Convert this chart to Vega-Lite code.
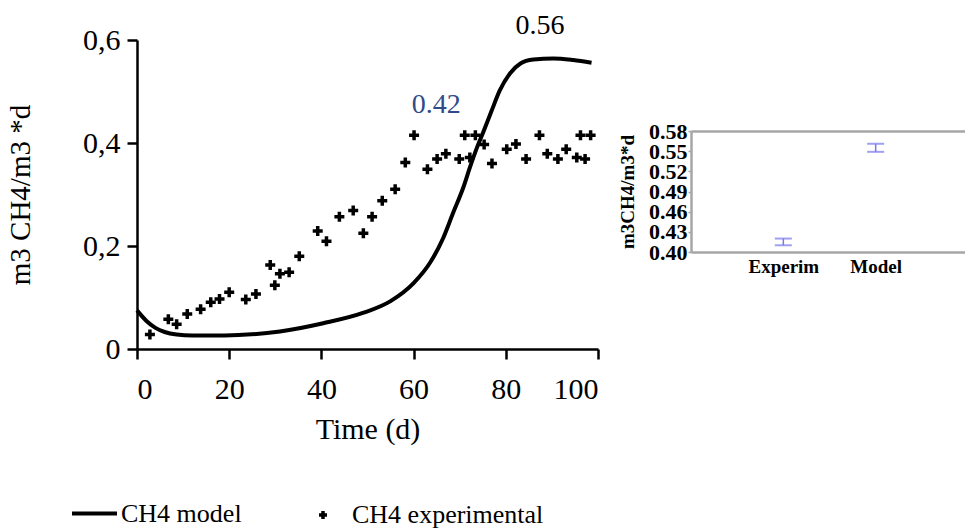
{
  "$schema": "https://vega.github.io/schema/vega-lite/v6.json",
  "width": 965,
  "height": 529,
  "autosize": {"type": "none"},
  "padding": 0,
  "background": "white",
  "config": {"view": {"stroke": null}, "font": "Liberation Serif"},
  "datasets": {
    "model": [
      {"day": 0, "value": 0.075, "series": "CH4 model"},
      {"day": 2, "value": 0.055, "series": "CH4 model"},
      {"day": 4, "value": 0.041, "series": "CH4 model"},
      {"day": 6, "value": 0.033, "series": "CH4 model"},
      {"day": 8.6, "value": 0.028, "series": "CH4 model"},
      {"day": 12, "value": 0.026, "series": "CH4 model"},
      {"day": 16, "value": 0.026, "series": "CH4 model"},
      {"day": 22, "value": 0.027, "series": "CH4 model"},
      {"day": 31, "value": 0.034, "series": "CH4 model"},
      {"day": 40.4, "value": 0.05, "series": "CH4 model"},
      {"day": 49, "value": 0.07, "series": "CH4 model"},
      {"day": 55, "value": 0.093, "series": "CH4 model"},
      {"day": 60, "value": 0.128, "series": "CH4 model"},
      {"day": 63.6, "value": 0.168, "series": "CH4 model"},
      {"day": 66.4, "value": 0.215, "series": "CH4 model"},
      {"day": 68.6, "value": 0.265, "series": "CH4 model"},
      {"day": 70.8, "value": 0.314, "series": "CH4 model"},
      {"day": 72.2, "value": 0.352, "series": "CH4 model"},
      {"day": 73.7, "value": 0.39, "series": "CH4 model"},
      {"day": 75.1, "value": 0.421, "series": "CH4 model"},
      {"day": 76.9, "value": 0.462, "series": "CH4 model"},
      {"day": 78.7, "value": 0.502, "series": "CH4 model"},
      {"day": 80.9, "value": 0.535, "series": "CH4 model"},
      {"day": 83.1, "value": 0.554, "series": "CH4 model"},
      {"day": 86, "value": 0.562, "series": "CH4 model"},
      {"day": 90.3, "value": 0.564, "series": "CH4 model"},
      {"day": 94.6, "value": 0.561, "series": "CH4 model"},
      {"day": 98.6, "value": 0.556, "series": "CH4 model"}
    ],
    "experimental": [
      {"day": 2.8, "value": 0.028, "series": "CH4 experimental"},
      {"day": 6.8, "value": 0.058, "series": "CH4 experimental"},
      {"day": 8.6, "value": 0.048, "series": "CH4 experimental"},
      {"day": 10.9, "value": 0.068, "series": "CH4 experimental"},
      {"day": 13.8, "value": 0.077, "series": "CH4 experimental"},
      {"day": 16.0, "value": 0.091, "series": "CH4 experimental"},
      {"day": 17.9, "value": 0.097, "series": "CH4 experimental"},
      {"day": 20.0, "value": 0.11, "series": "CH4 experimental"},
      {"day": 23.6, "value": 0.096, "series": "CH4 experimental"},
      {"day": 25.8, "value": 0.107, "series": "CH4 experimental"},
      {"day": 28.9, "value": 0.163, "series": "CH4 experimental"},
      {"day": 29.9, "value": 0.124, "series": "CH4 experimental"},
      {"day": 31.0, "value": 0.146, "series": "CH4 experimental"},
      {"day": 33.0, "value": 0.149, "series": "CH4 experimental"},
      {"day": 35.2, "value": 0.18, "series": "CH4 experimental"},
      {"day": 39.2, "value": 0.229, "series": "CH4 experimental"},
      {"day": 41.1, "value": 0.209, "series": "CH4 experimental"},
      {"day": 43.9, "value": 0.257, "series": "CH4 experimental"},
      {"day": 46.9, "value": 0.269, "series": "CH4 experimental"},
      {"day": 49.1, "value": 0.225, "series": "CH4 experimental"},
      {"day": 51.0, "value": 0.257, "series": "CH4 experimental"},
      {"day": 53.2, "value": 0.288, "series": "CH4 experimental"},
      {"day": 56.0, "value": 0.31, "series": "CH4 experimental"},
      {"day": 58.2, "value": 0.362, "series": "CH4 experimental"},
      {"day": 60.1, "value": 0.415, "series": "CH4 experimental"},
      {"day": 63.0, "value": 0.349, "series": "CH4 experimental"},
      {"day": 65.1, "value": 0.369, "series": "CH4 experimental"},
      {"day": 67.0, "value": 0.379, "series": "CH4 experimental"},
      {"day": 69.9, "value": 0.369, "series": "CH4 experimental"},
      {"day": 71.1, "value": 0.415, "series": "CH4 experimental"},
      {"day": 72.2, "value": 0.372, "series": "CH4 experimental"},
      {"day": 73.4, "value": 0.415, "series": "CH4 experimental"},
      {"day": 75.3, "value": 0.397, "series": "CH4 experimental"},
      {"day": 77.0, "value": 0.36, "series": "CH4 experimental"},
      {"day": 80.2, "value": 0.388, "series": "CH4 experimental"},
      {"day": 82.2, "value": 0.398, "series": "CH4 experimental"},
      {"day": 84.4, "value": 0.369, "series": "CH4 experimental"},
      {"day": 87.3, "value": 0.415, "series": "CH4 experimental"},
      {"day": 89.0, "value": 0.379, "series": "CH4 experimental"},
      {"day": 91.3, "value": 0.369, "series": "CH4 experimental"},
      {"day": 93.1, "value": 0.388, "series": "CH4 experimental"},
      {"day": 95.4, "value": 0.372, "series": "CH4 experimental"},
      {"day": 96.2, "value": 0.415, "series": "CH4 experimental"},
      {"day": 97.2, "value": 0.369, "series": "CH4 experimental"},
      {"day": 98.4, "value": 0.415, "series": "CH4 experimental"}
    ],
    "inset": [
      {"group": "Experim", "low": 0.41, "high": 0.42},
      {"group": "Model", "low": 0.549, "high": 0.561}
    ]
  },
  "layer": [
    {
      "layer": [
        {
          "data": {"name": "model"},
          "mark": {"type": "line", "interpolate": "monotone", "strokeWidth": 4, "color": "black"},
          "encoding": {
            "x": {
              "field": "day", "type": "quantitative",
              "scale": {"domain": [0, 100], "range": [137, 598], "nice": false, "zero": false},
              "axis": {
                "title": "Time (d)", "orient": "bottom", "offset": -180,
                "values": [0, 20, 40, 60, 80, 100], "grid": false,
                "domainColor": "black", "domainWidth": 2.5, "tickColor": "black", "tickWidth": 2.5, "tickSize": 10,
                "labelFont": "Liberation Serif", "labelFontSize": 30, "labelColor": "black", "labelPadding": 15,
                "titleFont": "Liberation Serif", "titleFontSize": 30, "titleFontWeight": "normal", "titleColor": "black", "titlePadding": 10
              }
            },
            "y": {
              "field": "value", "type": "quantitative",
              "scale": {"domain": [0, 0.6], "range": [349, 40], "nice": false, "zero": false},
              "axis": {
                "title": "m3 CH4/m3 *d", "orient": "left", "offset": -137,
                "values": [0, 0.2, 0.4, 0.6], "grid": false,
                "labelExpr": "datum.value === 0 ? '0' : replace(format(datum.value, '.1f'), '.', ',')",
                "domainColor": "black", "domainWidth": 2.5, "tickColor": "black", "tickWidth": 2.5, "tickSize": 10,
                "labelFont": "Liberation Serif", "labelFontSize": 30, "labelColor": "black", "labelPadding": 7,
                "titleFont": "Liberation Serif", "titleFontSize": 29, "titleFontWeight": "normal", "titleColor": "black", "titlePadding": 47
              }
            },
            "stroke": {
              "field": "series", "type": "nominal",
              "scale": {"domain": ["CH4 model"], "range": ["black"]},
              "legend": {
                "orient": "none", "legendX": 70, "legendY": 489, "title": null, "padding": 0,
                "symbolType": "stroke", "symbolSize": 2025, "symbolStrokeWidth": 4, "symbolStrokeColor": "black",
                "labelFont": "Liberation Serif", "labelFontSize": 26, "labelColor": "black", "labelOffset": 2, "labelLimit": 0
              }
            }
          }
        },
        {
          "data": {"name": "experimental"},
          "mark": {"type": "point", "filled": false, "strokeWidth": 3.5, "size": 100, "color": "black", "opacity": 1},
          "encoding": {
            "x": {"field": "day", "type": "quantitative"},
            "y": {"field": "value", "type": "quantitative"},
            "shape": {
              "field": "series", "type": "nominal",
              "scale": {"domain": ["CH4 experimental"], "range": ["M-1,0H1M0,-1V1"]},
              "legend": {
                "orient": "none", "legendX": 310, "legendY": 502, "title": null, "padding": 0,
                "symbolSize": 64, "symbolStrokeWidth": 3.5, "symbolStrokeColor": "black", "symbolFillColor": "transparent",
                "labelFont": "Liberation Serif", "labelFontSize": 26, "labelColor": "black", "labelOffset": 16, "labelLimit": 0
              }
            }
          }
        },
        {
          "data": {"values": [{"day": 87.4, "value": 0.628, "label": "0.56"}]},
          "mark": {"type": "text", "font": "Liberation Serif", "fontSize": 28, "color": "black", "align": "center", "baseline": "middle"},
          "encoding": {
            "x": {"field": "day", "type": "quantitative"},
            "y": {"field": "value", "type": "quantitative"},
            "text": {"field": "label"}
          }
        },
        {
          "data": {"values": [{"day": 64.9, "value": 0.474, "label": "0.42"}]},
          "mark": {"type": "text", "font": "Liberation Serif", "fontSize": 28, "color": "#2F4B8A", "align": "center", "baseline": "middle"},
          "encoding": {
            "x": {"field": "day", "type": "quantitative"},
            "y": {"field": "value", "type": "quantitative"},
            "text": {"field": "label"}
          }
        }
      ]
    },
    {
      "data": {"name": "inset"},
      "layer": [
        {
          "mark": {"type": "rule", "color": "#7878EE", "strokeWidth": 1.5},
          "encoding": {
            "x": {
              "field": "group", "type": "nominal", "sort": null,
              "scale": {"type": "point", "domain": ["Experim", "Model"], "range": [691, 968], "padding": 1.09},
              "axis": {
                "title": null, "orient": "bottom", "offset": -277, "ticks": false, "labelAngle": 0,
                "domainColor": "#A6A6A6", "domainWidth": 2.5,
                "labelFont": "Liberation Serif", "labelFontSize": 19, "labelFontWeight": "bold", "labelColor": "black", "labelPadding": 5
              }
            },
            "y": {
              "field": "low", "type": "quantitative",
              "scale": {"domain": [0.4, 0.58], "range": [252, 131], "nice": false, "zero": false},
              "axis": {
                "title": "m3CH4/m3*d", "orient": "left", "offset": -691, "grid": false,
                "values": [0.4, 0.43, 0.46, 0.49, 0.52, 0.55, 0.58], "format": ".2f", "labelOverlap": false,
                "domainColor": "#A6A6A6", "domainWidth": 2.5, "tickColor": "#A6A6A6", "tickSize": 3, "tickWidth": 1.5,
                "labelFont": "Liberation Serif", "labelFontSize": 22, "labelFontWeight": "bold", "labelColor": "black", "labelPadding": 1,
                "titleFont": "Liberation Serif", "titleFontSize": 19, "titleFontWeight": "bold", "titleColor": "black", "titlePadding": 11
              }
            },
            "y2": {"field": "high"}
          }
        },
        {
          "mark": {"type": "tick", "color": "#7878EE", "size": 17, "thickness": 2},
          "encoding": {
            "x": {"field": "group", "type": "nominal"},
            "y": {"field": "low", "type": "quantitative"}
          }
        },
        {
          "mark": {"type": "tick", "color": "#7878EE", "size": 17, "thickness": 2},
          "encoding": {
            "x": {"field": "group", "type": "nominal"},
            "y": {"field": "high", "type": "quantitative"}
          }
        }
      ]
    },
    {
      "data": {"name": "inset"},
      "mark": {"type": "point", "opacity": 0},
      "encoding": {
        "x": {
          "field": "group", "type": "nominal",
          "scale": {"type": "point", "domain": ["Experim", "Model"], "range": [691, 968], "padding": 1.09},
          "axis": {"title": null, "orient": "top", "offset": -131, "ticks": false, "labels": false, "domainColor": "#A6A6A6", "domainWidth": 2.5}
        },
        "y": {
          "field": "low", "type": "quantitative",
          "scale": {"domain": [0.4, 0.58], "range": [252, 131], "nice": false, "zero": false},
          "axis": null
        }
      }
    }
  ],
  "resolve": {
    "scale": {"x": "independent", "y": "independent", "stroke": "independent", "shape": "independent"},
    "axis": {"x": "independent", "y": "independent"}
  }
}
